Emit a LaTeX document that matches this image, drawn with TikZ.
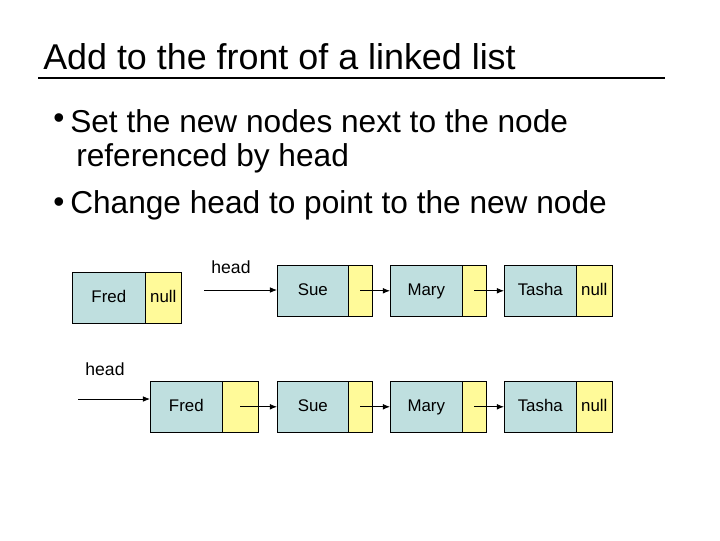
\documentclass[tikz,border=0pt]{standalone}
\usepackage{fontspec}
\setmainfont{Liberation Sans}
\usetikzlibrary{arrows.meta}
\begin{document}
\begin{tikzpicture}
            [x=0.025cm,y=-0.025cm,thin,
             data/.style={draw,fill=teal!25!white,minimum height=1.275cm,minimum width=1.8cm,inner sep=0pt,anchor=north west,text height=1.6ex,text depth=0.4ex,font=\fontsize{12}{14}\selectfont},
             ptr/.style={draw,fill=yellow!40,minimum height=1.275cm,minimum width=0.9cm,inner sep=0pt,anchor=north west,text height=1.6ex,text depth=0.4ex,font=\fontsize{12}{14}\selectfont},
             bullet/.style={anchor=west,inner sep=0pt,font=\fontsize{22.5}{26}\selectfont},
             link/.style={-{Latex[length=5pt,width=4pt]},semithick}]
            \useasboundingbox (0,0) rectangle (720,540);
            \node[anchor=west,inner sep=0pt,font=\fontsize{25.5}{28}\selectfont] (title) at (43,57) {Add to the front of a linked list};
            \draw[line width=1.5pt] (38,78) -- (665,78);
            \node[bullet] (dot1) at (53,121) {\textbullet};
            \node[bullet] (line1) at (70,121) {Set the new nodes next to the node};
            \node[bullet] (line2) at (76,158) {referenced by head};
            \node[bullet] (dot2) at (53,205) {\textbullet};
            \node[bullet] (line3) at (70,205) {Change head to point to the new node};
            % before
            \node[data,minimum width=1.825cm] (fred) at (72,272) {Fred};
            \node[ptr] (frednext) at (145,272) {null};
            \node[data,minimum width=1.775cm] (sue) at (277,265) {Sue};
            \node[ptr,minimum width=0.6cm] (suenext) at (348,265) {};
            \node[data] (mary) at (390,265) {Mary};
            \node[ptr,minimum width=0.6cm] (marynext) at (462,265) {};
            \node[data] (tasha) at (504,265) {Tasha};
            \node[ptr] (tashanext) at (576,265) {null};
            \node (head) at (231,267) {\fontsize{12.5}{14}\selectfont head};
            \coordinate (headstart) at (204,290);
            \draw[link] (headstart) -- (headstart -| sue.west);
            \draw[link] (suenext.center) -- (suenext.center -| mary.west);
            \draw[link] (marynext.center) -- (marynext.center -| tasha.west);
            % after
            \node[data] (fred2) at (150,381) {Fred};
            \node[ptr] (fred2next) at (222,381) {};
            \node[data,minimum width=1.775cm] (sue2) at (277,381) {Sue};
            \node[ptr,minimum width=0.6cm] (sue2next) at (348,381) {};
            \node[data] (mary2) at (390,381) {Mary};
            \node[ptr,minimum width=0.6cm] (mary2next) at (462,381) {};
            \node[data] (tasha2) at (504,381) {Tasha};
            \node[ptr] (tasha2next) at (576,381) {null};
            \node (head2) at (105,369) {\fontsize{12.5}{14}\selectfont head};
            \coordinate (head2start) at (78,399);
            \draw[link] (head2start) -- (head2start -| fred2.west);
            \draw[link] (fred2next.center) -- (fred2next.center -| sue2.west);
            \draw[link] (sue2next.center) -- (sue2next.center -| mary2.west);
            \draw[link] (mary2next.center) -- (mary2next.center -| tasha2.west);
        \end{tikzpicture}
\end{document}
